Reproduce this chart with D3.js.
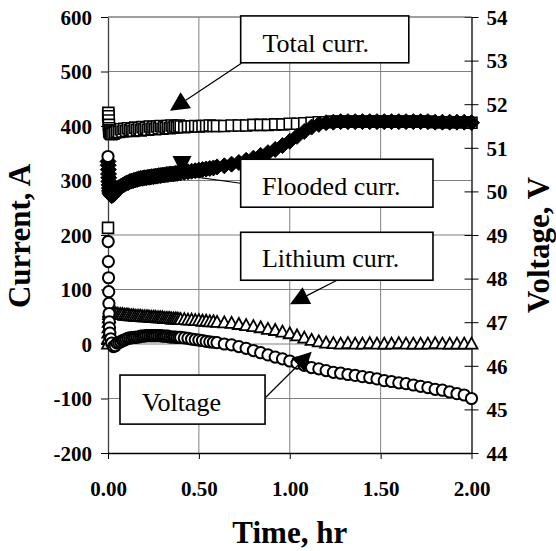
<!DOCTYPE html>
<html>
<head>
<meta charset="utf-8">
<script src="https://cdn.jsdelivr.net/npm/d3@7"></script>
<style>
  body { margin: 0; background: #fff; }
  svg text { font-family: "Liberation Serif", "Times New Roman", serif; }
</style>
</head>
<body>
<svg id="chart" width="556" height="551"></svg>
<script>
// time in hours
const time = [0, 0.001, 0.002, 0.003, 0.004, 0.005, 0.006, 0.007, 0.008, 0.01, 0.015, 0.02, 0.03, 0.04, 0.05,
  0.06, 0.07, 0.08, 0.09, 0.10, 0.11, 0.12, 0.13, 0.14, 0.15, 0.16, 0.17, 0.18, 0.19, 0.20, 0.21, 0.22, 0.23,
  0.24, 0.25, 0.26, 0.27, 0.28, 0.29, 0.30, 0.31, 0.32, 0.33, 0.34, 0.35, 0.36, 0.37, 0.38, 0.39, 0.40,
  0.42, 0.44, 0.46, 0.48, 0.50, 0.52, 0.54, 0.56, 0.58, 0.60,
  0.64, 0.68, 0.72, 0.76, 0.80, 0.84, 0.88, 0.92, 0.96, 1.00, 1.04, 1.08, 1.12, 1.16, 1.20, 1.24, 1.28, 1.32,
  1.36, 1.40, 1.44, 1.48, 1.52, 1.56, 1.60, 1.64, 1.68, 1.72, 1.76, 1.80, 1.84, 1.88, 1.92, 1.96, 2.00];

// currents in A (left axis)
const totalCurr = [213, 420, 424, 418, 410, 402, 396, 392, 390, 388, 386, 385, 386, 388, 390,
  389, 394, 390, 395, 391, 396, 392, 395, 391, 397, 393, 396, 392, 398, 394, 397, 393, 399,
  395, 398, 394, 399, 396, 400, 395, 399, 397, 400, 396, 401, 397, 400, 398, 401, 399,
  398, 399, 399, 400, 399, 400, 400, 401, 400, 400,
  400, 401, 401, 401, 402, 402, 402, 403, 403, 404, 404, 405, 406, 407, 407, 408, 408, 408,
  408, 408, 408, 408, 408, 408, 408, 408, 408, 408, 408, 407, 407, 407, 407, 407, 406];
const floodedCurr = [335, 328, 320, 312, 305, 298, 292, 286, 281, 277, 274, 272, 274, 279, 284,
  287, 289, 291, 293, 295, 296, 298, 299, 300, 301, 302, 303, 304, 304, 305, 305, 306, 306,
  307, 307, 308, 308, 309, 309, 310, 310, 311, 311, 312, 312, 312, 313, 313, 314, 314,
  315, 316, 317, 318, 319, 320, 321, 322, 323, 325,
  327, 330, 333, 337, 341, 346, 351, 357, 364, 372, 381, 390, 398, 403, 406, 407, 408, 408,
  408, 408, 408, 408, 408, 408, 408, 408, 408, 408, 408, 407, 407, 407, 407, 407, 406];
const lithiumCurr = [0, 10, 20, 30, 40, 48, 54, 58, 60, 60, 59, 58, 57, 56, 55,
  54, 54, 54, 53, 53, 53, 52, 52, 52, 51, 51, 51, 51, 50, 50, 50, 50, 49,
  49, 49, 49, 48, 48, 48, 48, 47, 47, 47, 47, 46, 46, 46, 46, 45, 45,
  45, 44, 44, 43, 43, 42, 42, 41, 41, 40,
  39, 38, 36, 34, 32, 30, 27, 25, 22, 19, 15, 11, 7, 4, 2, 1, 0, 1,
  0, 0, 1, 0, 0, 0, 1, 0, 0, 0, 0, 1, 0, 0, 0, 0, 0];
// voltage in V (right axis)
const voltage = [50.80, 48.85, 48.39, 48.02, 47.70, 47.43, 47.20, 47.01, 46.87, 46.75, 46.62, 46.52, 46.44, 46.46, 46.52,
  46.53, 46.55, 46.58, 46.59, 46.61, 46.63, 46.64, 46.64, 46.65, 46.65, 46.66, 46.66, 46.68, 46.68, 46.68, 46.69, 46.69, 46.69,
  46.69, 46.69, 46.69, 46.69, 46.69, 46.69, 46.68, 46.68, 46.68, 46.68, 46.66, 46.66, 46.66, 46.66, 46.65, 46.65, 46.65,
  46.64, 46.63, 46.61, 46.60, 46.59, 46.58, 46.56, 46.55, 46.54, 46.53,
  46.50, 46.48, 46.44, 46.40, 46.35, 46.30, 46.25, 46.20, 46.16, 46.11, 46.06, 46.01, 45.96, 45.93, 45.89, 45.85, 45.83, 45.80,
  45.78, 45.75, 45.73, 45.70, 45.66, 45.64, 45.61, 45.59, 45.56, 45.53, 45.50, 45.46, 45.44, 45.40, 45.36, 45.33, 45.25];

const currentTicks = [-200, -100, 0, 100, 200, 300, 400, 500, 600];
const voltTicks = [44, 45, 46, 47, 48, 49, 50, 51, 52, 53, 54];
const timeTicks = [0, 0.5, 1, 1.5, 2];

// callout boxes, in data units (hr, A)
const notes = [
  { label: "Total curr.", box: [0.73, 602, 1.655, 516], text: [0.85, 536], from: [0.734, 515], tip: [0.341, 428] },
  { label: "Flooded curr.", box: [0.73, 339, 1.788, 251], text: [0.847, 273], from: [0.73, 295], tip: [0.407, 310], headFrom: [0.407, 345] },
  { label: "Lithium curr.", box: [0.73, 205, 1.788, 117], text: [0.847, 141], from: [1.26, 117], tip: [1.001, 73] },
  { label: "Voltage", box: [0.066, -57, 0.864, -147], text: [0.187, -123], from: [0.864, -99], tip: [1.121, -14] }
];

const svg = d3.select("#chart");
const pLeft = 108, pRight = 471.5, pTop = 17, pBottom = 453;

const x = d3.scaleLinear().domain([0, 2]).range([pLeft, pRight]);
const yC = d3.scaleLinear().domain([-200, 600]).range([pBottom, pTop]);
const yV = d3.scaleLinear().domain([44, 54]).range([pBottom, pTop]);

// grid
const grid = svg.append("g");
grid.selectAll(".hg").data(currentTicks.filter(d => d > -200)).enter().append("line")
  .attr("x1", pLeft).attr("x2", pRight)
  .attr("y1", d => yC(d)).attr("y2", d => yC(d))
  .attr("stroke", "#808080").attr("stroke-width", 1);
grid.selectAll(".vg").data(timeTicks.filter(d => d > 0 && d < 2)).enter().append("line")
  .attr("x1", d => x(d)).attr("x2", d => x(d))
  .attr("y1", pTop).attr("y2", pBottom)
  .attr("stroke", "#808080").attr("stroke-width", 1);

const labelFont = g => g.selectAll("text")
  .style("font-family", '"Liberation Serif", "Times New Roman", serif')
  .style("font-size", "21px").style("font-weight", "bold").attr("fill", "#000");

// left axis
const axL = svg.append("g").attr("transform", `translate(${pLeft},0)`)
  .call(d3.axisLeft(yC).tickValues(currentTicks).tickFormat(d => String(d)).tickSize(7).tickSizeOuter(0))
  .call(labelFont);
axL.select(".domain").attr("stroke", "#404040").attr("stroke-width", 1.3);
axL.selectAll(".tick line").attr("stroke", "#000");
axL.selectAll(".tick text").attr("x", -16).attr("dy", "0.35em");

// right axis, ticks cross the line
const axR = svg.append("g").attr("transform", `translate(${pRight},0)`)
  .call(d3.axisRight(yV).tickValues(voltTicks).tickFormat(d => String(d)).tickSize(7).tickSizeOuter(0))
  .call(labelFont);
axR.select(".domain").attr("stroke", "#000").attr("stroke-width", 1.3);
axR.selectAll(".tick line").attr("x1", -7).attr("stroke", "#000");
axR.selectAll(".tick text").attr("x", 15).attr("dy", "0.35em");

// bottom axis
const axB = svg.append("g").attr("transform", `translate(0,${pBottom})`)
  .call(d3.axisBottom(x).tickValues(timeTicks).tickFormat(d3.format(".2f")).tickSize(6).tickSizeOuter(0))
  .call(labelFont);
axB.select(".domain").attr("stroke", "#000").attr("stroke-width", 1.3);
axB.selectAll(".tick line").attr("stroke", "#000");
axB.selectAll(".tick text").attr("y", 43).attr("dy", 0);

// top border
svg.append("line").attr("x1", pLeft).attr("x2", pRight).attr("y1", pTop).attr("y2", pTop)
  .attr("stroke", "#808080").attr("stroke-width", 1);

// axis titles
svg.append("text").attr("transform", "translate(30,236) rotate(-90)")
  .attr("text-anchor", "middle").style("font-size", "31px").style("font-weight", "bold").text("Current, A");
svg.append("text").attr("transform", "translate(549,245) rotate(-90)")
  .attr("text-anchor", "middle").style("font-size", "31px").style("font-weight", "bold").text("Voltage, V");
svg.append("text").attr("x", (pLeft + pRight) / 2).attr("y", 543)
  .attr("text-anchor", "middle").style("font-size", "31px").style("font-weight", "bold").text("Time, hr");

// markers
const squarePath = s => `M${-s},${-s}h${2 * s}v${2 * s}h${-2 * s}Z`;
const diamondPath = r => `M0,${-r}L${r},0L0,${r}L${-r},0Z`;
const trianglePath = (w, h) => `M0,${-h * 0.58}L${w / 2},${h * 0.42}L${-w / 2},${h * 0.42}Z`;

const rows = time.map((t, i) => ({ t, total: totalCurr[i], flooded: floodedCurr[i], lithium: lithiumCurr[i], volt: voltage[i] }));

svg.append("g").selectAll("path").data(rows).enter().append("path")
  .attr("d", squarePath(5.5))
  .attr("transform", d => `translate(${x(d.t)},${yC(d.total)})`)
  .attr("fill", "#fff").attr("stroke", "#000").attr("stroke-width", 1.6);

svg.append("g").selectAll("path").data(rows).enter().append("path")
  .attr("d", diamondPath(8))
  .attr("transform", d => `translate(${x(d.t)},${yC(d.flooded)})`)
  .attr("fill", "#000").attr("stroke", "#000").attr("stroke-width", 1);

svg.append("g").selectAll("path").data(rows).enter().append("path")
  .attr("d", trianglePath(12, 11))
  .attr("transform", d => `translate(${x(d.t)},${yC(d.lithium)})`)
  .attr("fill", "#fff").attr("stroke", "#000").attr("stroke-width", 1.8);

svg.append("g").selectAll("circle").data(rows).enter().append("circle")
  .attr("cx", d => x(d.t)).attr("cy", d => yV(d.volt)).attr("r", 5.6)
  .attr("fill", "#fff").attr("stroke", "#000").attr("stroke-width", 2);

// callouts
const ann = svg.append("g");
notes.forEach(n => {
  const fx = x(n.from[0]), fy = yC(n.from[1]);
  const tx = x(n.tip[0]), ty = yC(n.tip[1]);
  const hf = n.headFrom ? [x(n.headFrom[0]), yC(n.headFrom[1])] : [fx, fy];
  let ux = tx - hf[0], uy = ty - hf[1];
  const len = Math.hypot(ux, uy); ux /= len; uy /= len;
  const L = 19, W = 9.5;
  const bx = tx - L * ux, by = ty - L * uy;
  ann.append("line").attr("x1", fx).attr("y1", fy).attr("x2", n.headFrom ? tx : bx).attr("y2", n.headFrom ? ty : by)
    .attr("stroke", "#000").attr("stroke-width", 1.2);
  ann.append("path")
    .attr("d", `M${tx},${ty}L${bx - W * uy},${by + W * ux}L${bx + W * uy},${by - W * ux}Z`)
    .attr("fill", "#000");
  ann.append("rect")
    .attr("x", x(n.box[0])).attr("y", yC(n.box[1]))
    .attr("width", x(n.box[2]) - x(n.box[0])).attr("height", yC(n.box[3]) - yC(n.box[1]))
    .attr("fill", "#fff").attr("stroke", "#000").attr("stroke-width", 1.6);
  ann.append("text").attr("x", x(n.text[0])).attr("y", yC(n.text[1]))
    .style("font-size", "26px").text(n.label);
});
</script>
</body>
</html>
